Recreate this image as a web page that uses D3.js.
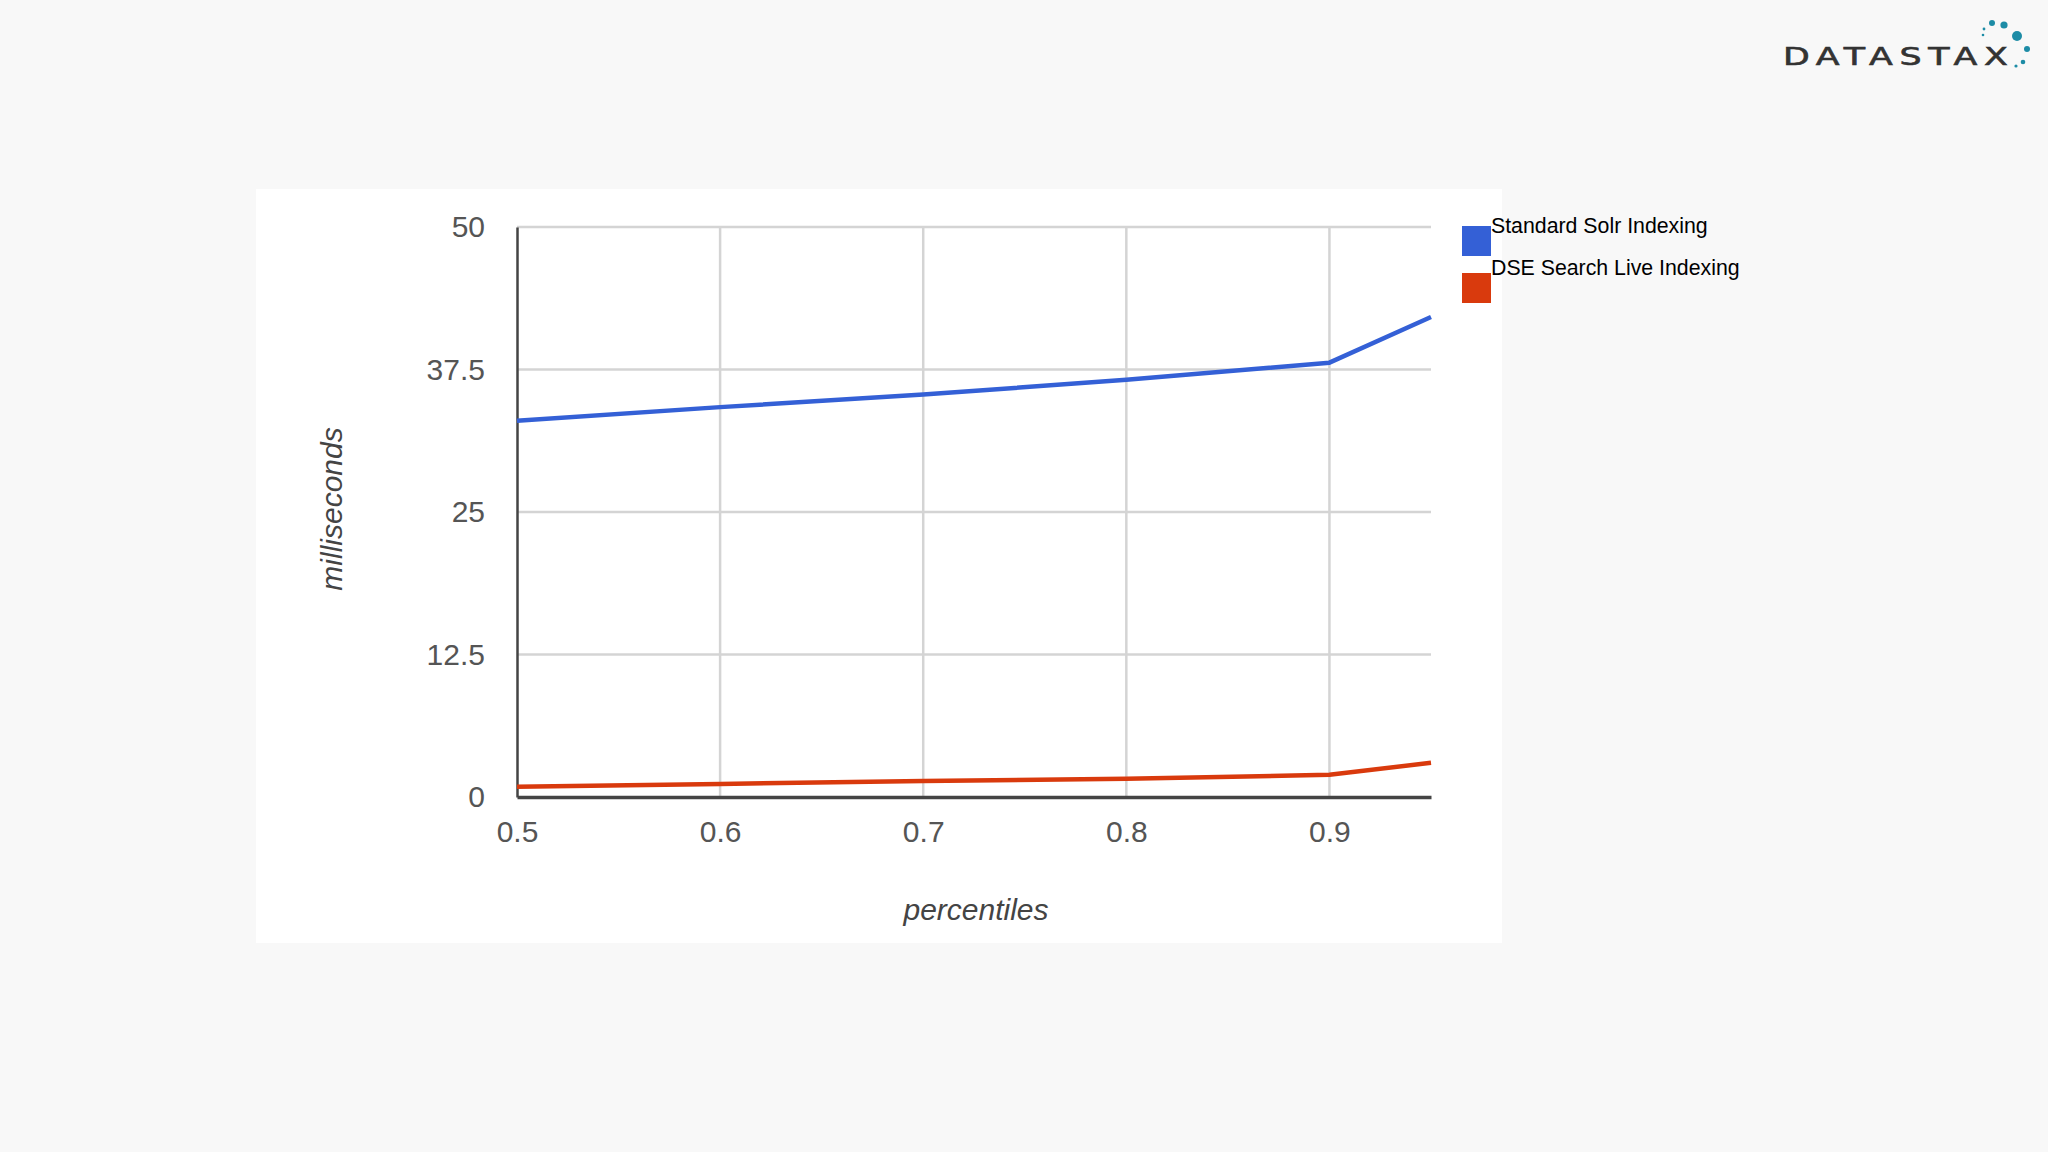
<!DOCTYPE html>
<html>
<head>
<meta charset="utf-8">
<script src="https://cdn.jsdelivr.net/npm/d3@7"></script>
<style>
  body { margin: 0; background: #f8f8f8; }
  svg { display: block; }
</style>
</head>
<body>
<svg width="2048" height="1152"></svg>
<script>
// percentile points and latency (ms) per series
const percentiles = [0.5, 0.6, 0.7, 0.8, 0.9, 0.95];
const solrValues = [33.0, 34.2, 35.3, 36.6, 38.1, 42.1];
const dseValues = [0.9, 1.15, 1.4, 1.6, 1.95, 3.0];
const seriesNames = ["Standard Solr Indexing", "DSE Search Live Indexing"];
const xTicks = [0.5, 0.6, 0.7, 0.8, 0.9];
const yTicks = [0, 12.5, 25, 37.5, 50];

const svg = d3.select("svg");

// white card behind the chart
svg.append("rect")
  .attr("x", 256).attr("y", 189)
  .attr("width", 1246).attr("height", 754)
  .attr("fill", "#fff");

const x = d3.scaleLinear().domain([0.5, 0.95]).range([517, 1431]);
const y = d3.scaleLinear().domain([0, 50]).range([797, 227]);

const grid = svg.append("g");

// gridlines
grid.selectAll(".hgrid")
  .data(yTicks.filter(d => d > 0))
  .enter().append("line")
    .attr("x1", x(0.5)).attr("x2", x(0.95))
    .attr("y1", d => y(d)).attr("y2", d => y(d))
    .attr("stroke", "#d4d4d4")
    .attr("stroke-width", 2.5);

grid.selectAll(".vgrid")
  .data(xTicks.filter(d => d > 0.5))
  .enter().append("line")
    .attr("x1", d => x(d)).attr("x2", d => x(d))
    .attr("y1", y(0)).attr("y2", y(50))
    .attr("stroke", "#d4d4d4")
    .attr("stroke-width", 2.5);

// axes
const xAxis = svg.append("g")
  .attr("transform", "translate(0," + y(0) + ")")
  .call(d3.axisBottom(x).tickValues(xTicks).tickSize(0).tickPadding(24).tickFormat(d3.format(".1f")));
xAxis.select(".domain").attr("stroke", "#444").attr("stroke-width", 3.5);

const yAxis = svg.append("g")
  .attr("transform", "translate(" + x(0.5) + ",0)")
  .call(d3.axisLeft(y).tickValues(yTicks).tickSize(0).tickPadding(32).tickFormat(d => d));
yAxis.select(".domain").attr("stroke", "#444").attr("stroke-width", 2.5);

svg.selectAll(".tick text")
  .attr("font-family", "Liberation Sans, Arial, sans-serif")
  .attr("font-size", 30)
  .attr("fill", "#555");

// series lines
const line = d3.line()
  .x((d, i) => x(percentiles[i]))
  .y(d => y(d));

const colors = ["#3460d6", "#d93a0d"];

[solrValues, dseValues].forEach((vals, i) => {
  svg.append("path")
    .datum(vals)
    .attr("d", line)
    .attr("fill", "none")
    .attr("stroke", colors[i])
    .attr("stroke-width", 4.5)
    .attr("stroke-linejoin", "round");
});

// axis titles
svg.append("text")
  .attr("x", 976).attr("y", 920)
  .attr("text-anchor", "middle")
  .attr("font-family", "Liberation Sans, Arial, sans-serif")
  .attr("font-style", "italic")
  .attr("font-size", 30)
  .attr("fill", "#444")
  .text("percentiles");

svg.append("text")
  .attr("transform", "translate(342,509) rotate(-90)")
  .attr("text-anchor", "middle")
  .attr("font-family", "Liberation Sans, Arial, sans-serif")
  .attr("font-style", "italic")
  .attr("font-size", 30)
  .attr("fill", "#444")
  .text("milliseconds");

// legend
const legend = svg.append("g");
seriesNames.forEach((name, i) => {
  legend.append("rect")
    .attr("x", 1462).attr("y", 226 + i * 47)
    .attr("width", 29).attr("height", 30)
    .attr("fill", colors[i]);
  legend.append("text")
    .attr("x", 1491).attr("y", 233 + i * 42)
    .attr("font-family", "Liberation Sans, Arial, sans-serif")
    .attr("font-size", 21.3)
    .attr("fill", "#000")
    .text(name);
});

// logo
const logo = svg.append("g");
logo.append("text")
  .attr("transform", "translate(1783,65) scale(1.45,1)")
  .attr("font-family", "DejaVu Sans, sans-serif")
  .attr("font-size", 24)
  .attr("textLength", 155)
  .attr("lengthAdjust", "spacing")
  .attr("fill", "#333")
  .attr("stroke", "#333")
  .attr("stroke-width", 0.6)
  .text("DATASTAX");
const logoDots = [[1984, 29, 1.4], [1983, 35, 1.3], [1992, 23, 3], [2004, 25, 3.6], [2017, 36, 5], [2027, 49, 3], [2023, 62, 2.3], [2016, 66, 1.6]];
logo.selectAll("circle")
  .data(logoDots)
  .enter().append("circle")
    .attr("cx", d => d[0]).attr("cy", d => d[1]).attr("r", d => d[2])
    .attr("fill", "#1d8ca6");
</script>
</body>
</html>
